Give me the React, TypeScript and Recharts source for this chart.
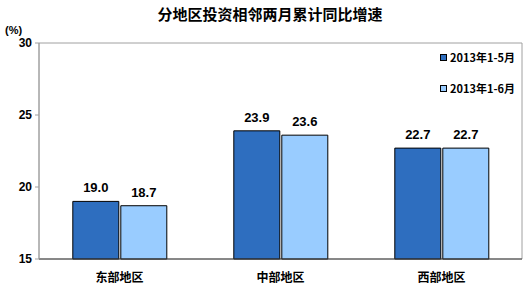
import React from "react";
import { BarChart, Bar, XAxis, YAxis, LabelList, ReferenceArea } from "recharts";

const categories = ["东部地区", "中部地区", "西部地区"];
const series1Name = "2013年1-5月";
const series2Name = "2013年1-6月";
const series1 = [19.0, 23.9, 22.7];
const series2 = [18.7, 23.6, 22.7];
const yTicks = [15, 20, 25, 30];
const colors = ["#2E6EBF", "#99CCFF"];

const data = categories.map((c, i) => ({ name: c, s1: series1[i], s2: series2[i] }));

const FONT = "'Liberation Sans', 'Noto Sans CJK SC', sans-serif";
const CJK = "'Noto Sans CJK SC', sans-serif";

const legendItems = [
  { name: series1Name, color: colors[0] },
  { name: series2Name, color: colors[1] },
];

export default function App() {
  return (
    <div style={{ position: "absolute", left: 0, top: 0, width: 532, height: 290, background: "#fff" }}>
      <div style={{ position: "absolute", left: 0, top: 4, width: 540, textAlign: "center", fontFamily: CJK, fontWeight: 700, fontSize: 15, color: "#000", lineHeight: "20px" }}>
        分地区投资相邻两月累计同比增速
      </div>
      <div style={{ position: "absolute", left: 5, top: 24, fontFamily: FONT, fontWeight: 700, fontSize: 11, color: "#000", lineHeight: "12px" }}>
        (%)
      </div>
      <BarChart
        width={532}
        height={290}
        data={data}
        margin={{ top: 43, right: 10, bottom: 6, left: 0 }}
        barCategoryGap="21%"
        barGap={2}
      >
        <ReferenceArea y1={15} y2={30} fill="none" stroke="#a0a0a0" strokeWidth={1} ifOverflow="extendDomain" />
        <XAxis
          dataKey="name"
          height={25}
          axisLine={{ stroke: "#404040" }}
          tickLine={false}
          tick={{ fill: "#000", fontFamily: CJK, fontWeight: 700, fontSize: 12 }}
          tickMargin={8}
        />
        <YAxis
          domain={[15, 30]}
          ticks={yTicks}
          width={39}
          axisLine={{ stroke: "#a0a0a0" }}
          tickLine={{ stroke: "#a0a0a0" }}
          tickSize={4}
          tickMargin={3}
          tick={{ fill: "#000", fontFamily: FONT, fontWeight: 700, fontSize: 12 }}
        />
        <Bar dataKey="s1" name={series1Name} fill={colors[0]} stroke="#000" strokeWidth={1} isAnimationActive={false}>
          <LabelList dataKey="s1" position="top" offset={9} formatter={(v: any) => Number(v).toFixed(1)} style={{ fill: "#000", fontFamily: FONT, fontWeight: 700, fontSize: 13 }} />
        </Bar>
        <Bar dataKey="s2" name={series2Name} fill={colors[1]} stroke="#000" strokeWidth={1} isAnimationActive={false}>
          <LabelList dataKey="s2" position="top" offset={9} formatter={(v: any) => Number(v).toFixed(1)} style={{ fill: "#000", fontFamily: FONT, fontWeight: 700, fontSize: 13 }} />
        </Bar>
      </BarChart>
      <div style={{ position: "absolute", top: 51, left: 440, display: "flex", flexDirection: "column", gap: 18 }}>
        {legendItems.map((p) => (
          <div key={p.name} style={{ display: "flex", alignItems: "center", fontFamily: CJK, fontWeight: 700, fontSize: 11, color: "#000", lineHeight: "13px" }}>
            <span style={{ display: "inline-block", width: 7, height: 7, background: p.color, border: "1px solid #000", marginRight: 3, boxSizing: "border-box" }} />
            {p.name}
          </div>
        ))}
      </div>
    </div>
  );
}
